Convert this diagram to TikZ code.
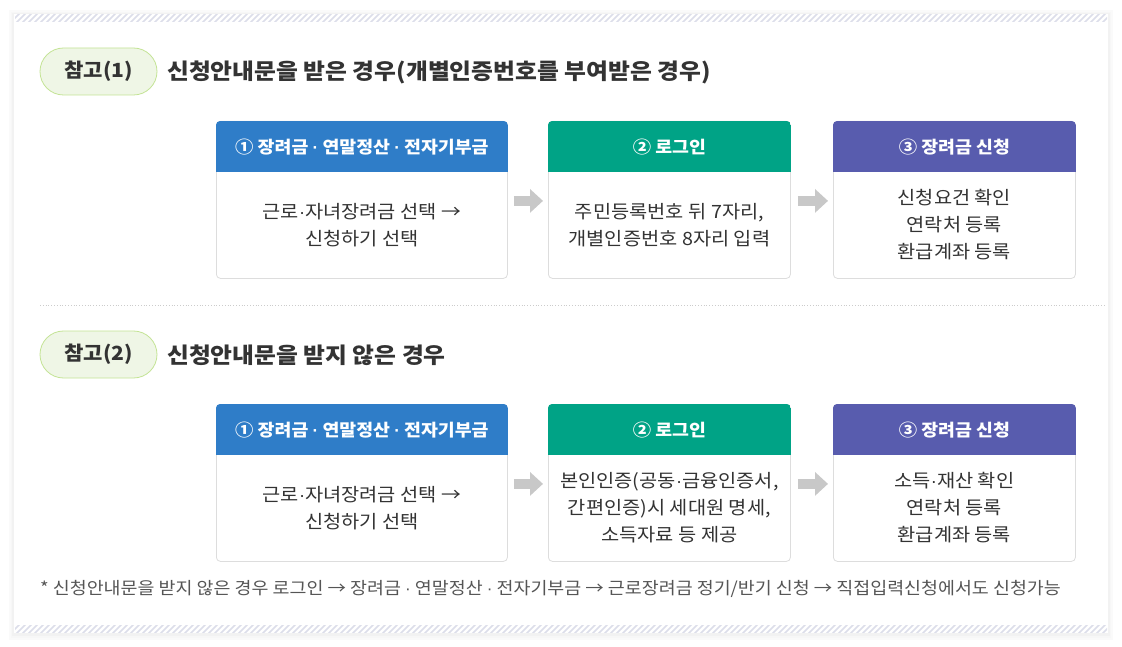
\documentclass[tikz,border=0pt]{standalone}
\usepackage{fontspec}
\setmainfont{Noto Sans CJK KR}[FakeStretch=1.08]
\newfontfamily\dotfont{Liberation Sans}
\newcommand\md{{\dotfont ·}}
\usetikzlibrary{arrows.meta,calc}
\definecolor{hblue}{RGB}{47,125,200}
\definecolor{hgreen}{RGB}{0,163,134}
\definecolor{hpurple}{RGB}{88,92,174}
\definecolor{txt}{RGB}{51,51,51}
\definecolor{fntxt}{RGB}{85,85,85}
\definecolor{pillfill}{RGB}{239,246,230}
\definecolor{pilldraw}{RGB}{196,228,150}
\definecolor{hatchc}{RGB}{220,222,234}
\definecolor{arrowgray}{RGB}{200,200,200}
\definecolor{boxline}{RGB}{221,221,221}
\definecolor{sepc}{RGB}{204,204,204}
\tikzset{
  pill/.style={draw=pilldraw, fill=pillfill, rounded corners=23.5pt, minimum width=117pt, minimum height=47pt, line width=0.8pt, text=txt, font=\bfseries\fontsize{19.5}{22}\selectfont, inner sep=0pt},
  titletext/.style={anchor=west, text=txt, font=\bfseries\fontsize{22}{26}\selectfont, inner sep=0pt},
  boxbody/.style={draw=boxline, fill=white, rounded corners=4pt, minimum height=157pt, line width=0.8pt, inner sep=0pt},
  hdrtext/.style={text=white, font=\bfseries\fontsize{17}{20}\selectfont, inner sep=0pt},
  bodytext/.style={text=txt, align=center, font=\fontsize{18.3}{27}\selectfont, inner sep=0pt},
  flowarrow/.style={arrowgray, line width=10pt, -{Triangle[length=13pt,width=23pt]}},
  fntext/.style={anchor=west, text=fntxt, font=\fontsize{17.05}{20}\selectfont, inner sep=0pt}
}
\newcommand\flowbox[7]{%
  \node[boxbody, minimum width=#4pt, anchor=north west] (#1) at (#2,#3) {};
  \begin{scope}
    \clip[rounded corners=4pt] (#1.north west) rectangle (#1.south east);
    \fill[#5] (#1.north west) rectangle ($(#1.north east)+(0,51)$);
  \end{scope}
  \node[hdrtext] (#1h) at ($(#1.north)+(0,26)$) {#6};
  \node[bodytext] (#1b) at ($(#1.north)+(0,104)$) {#7};
}
\begin{document}
\begin{tikzpicture}[x=1pt,y=-1pt]
\useasboundingbox (0,0) rectangle (1122,647);
% panel shadow
\fill[black!2] (9,10) rectangle (1113,640);
\fill[black!3] (11,12) rectangle (1111,638);
\fill[black!5] (12,13) rectangle (1110,636);
\fill[white] (14,14) rectangle (1108,633);
% hatch strips
\begin{scope}
  \clip (15,15) rectangle (1107,22);
  \foreach \x in {0,6,...,1100} \draw[hatchc, line width=1.6pt] (\x+10,23) -- (\x+20,13);
\end{scope}
\begin{scope}
  \clip (15,625) rectangle (1107,632);
  \foreach \x in {0,6,...,1100} \draw[hatchc, line width=1.6pt] (\x+10,634) -- (\x+20,624);
\end{scope}
% section 1
\node[pill] (p1) at (98.5,71.5) {참고(1)};
\node[titletext] (t1) at (167,72) {신청안내문을 받은 경우(개별인증번호를 부여받은 경우)};
\flowbox{a1}{216}{121}{291}{hblue}{① 장려금 \md{} 연말정산 \md{} 전자기부금}{근로\md 자녀장려금 선택 →\\신청하기 선택}
\flowbox{a2}{548}{121}{242}{hgreen}{② 로그인}{주민등록번호 뒤 7자리,\\개별인증번호 8자리 입력}
\flowbox{a3}{833}{121}{242}{hpurple}{③ 장려금 신청}{신청요건 확인\\연락처 등록\\환급계좌 등록}
\draw[flowarrow] ($(a1.east)+(6,1)$) -- ($(a2.west)+(-5,1)$);
\draw[flowarrow] ($(a2.east)+(7,1)$) -- ($(a3.west)+(-5,1)$);
% separator
\draw[sepc, dotted, line width=0.8pt] (40,305) -- (1106,305);
% section 2
\node[pill] (p2) at (98.5,354.5) {참고(2)};
\node[titletext] (t2) at (167,355) {신청안내문을 받지 않은 경우};
\flowbox{c1}{216}{404}{291}{hblue}{① 장려금 \md{} 연말정산 \md{} 전자기부금}{근로\md 자녀장려금 선택 →\\신청하기 선택}
\flowbox{c2}{548}{404}{242}{hgreen}{② 로그인}{본인인증(공동\md 금융인증서,\\간편인증)시 세대원 명세,\\소득자료 등 제공}
\flowbox{c3}{833}{404}{242}{hpurple}{③ 장려금 신청}{소득\md 재산 확인\\연락처 등록\\환급계좌 등록}
\draw[flowarrow] ($(c1.east)+(6,1)$) -- ($(c2.west)+(-5,1)$);
\draw[flowarrow] ($(c2.east)+(7,1)$) -- ($(c3.west)+(-5,1)$);
% footnote
\node[fntext] (fn) at (40,589) {* 신청안내문을 받지 않은 경우 로그인 → 장려금 \md{} 연말정산 \md{} 전자기부금 → 근로장려금 정기/반기 신청 → 직접입력신청에서도 신청가능};
\end{tikzpicture}
\end{document}
